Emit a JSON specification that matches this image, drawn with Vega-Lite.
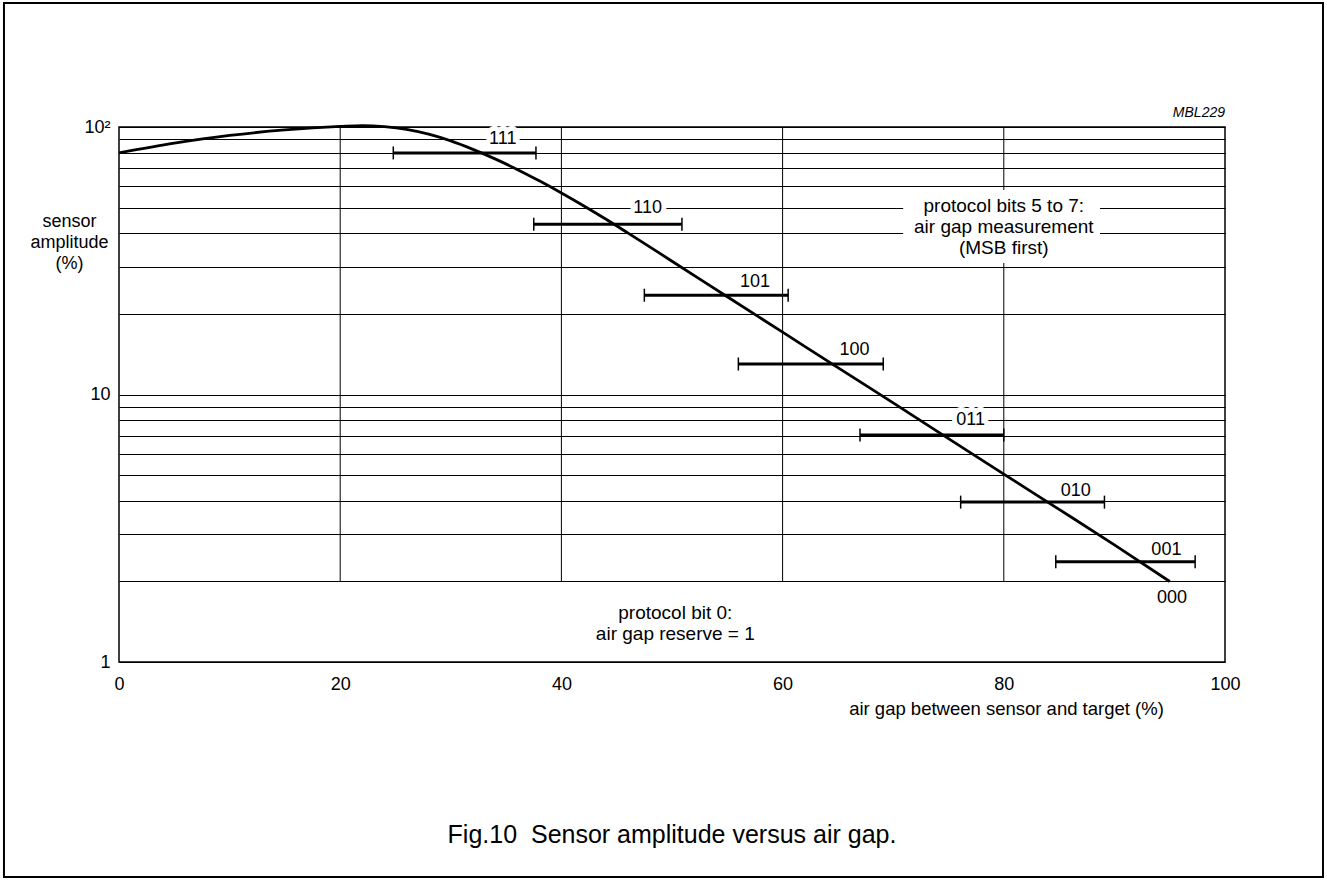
{
  "$schema": "https://vega.github.io/schema/vega-lite/v6.json",
  "width": 1106,
  "height": 535,
  "autosize": {"type": "none"},
  "padding": {"left": 119, "top": 127, "right": 102, "bottom": 218},
  "background": "white",
  "config": {
    "view": {"stroke": "#000", "strokeWidth": 1.5},
    "font": "Liberation Sans"
  },
  "title": {
    "text": "Fig.10\u00a0 Sensor amplitude versus air gap.",
    "orient": "bottom",
    "anchor": "middle",
    "frame": "group",
    "offset": -55,
    "fontSize": 25,
    "font": "Liberation Sans",
    "fontWeight": "normal",
    "color": "#000"
  },
  "datasets": {
    "curve": [
      {"x": 0, "y": 80}, {"x": 5, "y": 87}, {"x": 10, "y": 93}, {"x": 15, "y": 97.5},
      {"x": 20, "y": 100.5}, {"x": 22, "y": 101.2}, {"x": 24, "y": 100.3}, {"x": 26, "y": 98},
      {"x": 28, "y": 94}, {"x": 30, "y": 88.7}, {"x": 32, "y": 82.5}, {"x": 34, "y": 76},
      {"x": 36, "y": 69.4}, {"x": 38, "y": 62.9}, {"x": 40, "y": 56.7}, {"x": 42, "y": 50.8},
      {"x": 44, "y": 45.3}, {"x": 46, "y": 40.2}, {"x": 50, "y": 31.5}, {"x": 55, "y": 23.2},
      {"x": 60, "y": 17.1}, {"x": 65, "y": 12.6}, {"x": 70, "y": 9.3}, {"x": 75, "y": 6.84},
      {"x": 80, "y": 5.04}, {"x": 85, "y": 3.72}, {"x": 90, "y": 2.74}, {"x": 95, "y": 2}
    ],
    "bars": [
      {"lo": 24.8, "hi": 37.7, "y": 80},
      {"lo": 37.5, "hi": 50.9, "y": 43.3},
      {"lo": 47.5, "hi": 60.5, "y": 23.5},
      {"lo": 56.0, "hi": 69.1, "y": 13},
      {"lo": 67.0, "hi": 80.0, "y": 7.06},
      {"lo": 76.1, "hi": 89.1, "y": 3.96},
      {"lo": 84.7, "hi": 97.3, "y": 2.37}
    ],
    "labels": [
      {"code": "111", "lx": 34.7, "ly": 90},
      {"code": "110", "lx": 47.8, "ly": 50},
      {"code": "101", "lx": 57.5, "ly": 26.4},
      {"code": "100", "lx": 66.5, "ly": 14.7},
      {"code": "011", "lx": 77.0, "ly": 8},
      {"code": "010", "lx": 86.5, "ly": 4.35},
      {"code": "001", "lx": 94.7, "ly": 2.62},
      {"code": "000", "lx": 95.2, "ly": 1.74}
    ],
    "gridx": [{"g": 20}, {"g": 40}, {"g": 60}, {"g": 80}],
    "notes": [
      {"note": "protocol bits 5 to 7:\nair gap measurement\n(MSB first)", "nx": 80, "ny": 50.7},
      {"note": "protocol bit 0:\nair gap reserve = 1", "nx": 50.3, "ny": 1.525}
    ]
  },
  "layer": [
    {
      "data": {"values": [{"k": 1}]},
      "mark": {"type": "rect", "filled": false, "stroke": "#000", "strokeWidth": 2},
      "encoding": {
        "x": {"datum": -10.4, "type": "quantitative"},
        "x2": {"datum": 108.86},
        "y": {"datum": 290.8, "type": "quantitative"},
        "y2": {"datum": 0.1571}
      }
    },
    {
      "data": {"name": "gridx"},
      "mark": {"type": "rule", "color": "#000", "strokeWidth": 1},
      "encoding": {
        "x": {"field": "g", "type": "quantitative"},
        "y": {"datum": 2, "type": "quantitative"},
        "y2": {"datum": 100}
      }
    },
    {
      "data": {"values": [{"k": 1}]},
      "mark": {"type": "rect", "color": "white", "strokeWidth": 0},
      "encoding": {
        "x": {"datum": 70.9, "type": "quantitative"},
        "x2": {"datum": 88.7},
        "y": {"datum": 58.2, "type": "quantitative"},
        "y2": {"datum": 31.0}
      }
    },
    {
      "data": {"name": "labels"},
      "mark": {"type": "text", "fontSize": 18, "font": "Liberation Sans", "baseline": "middle", "align": "center", "color": "white", "stroke": "white", "strokeWidth": 10, "strokeJoin": "round"},
      "encoding": {
        "x": {"field": "lx", "type": "quantitative"},
        "y": {"field": "ly", "type": "quantitative"},
        "text": {"field": "code", "type": "nominal"}
      }
    },
    {
      "data": {"name": "curve"},
      "mark": {"type": "line", "color": "#000", "strokeWidth": 2.8, "interpolate": "monotone"},
      "encoding": {
        "x": {
          "field": "x", "type": "quantitative",
          "scale": {"domain": [0, 100], "nice": false, "zero": false},
          "axis": {
            "values": [0, 20, 40, 60, 80, 100],
            "grid": false, "domain": false, "ticks": false,
            "labelFlush": false, "labelOverlap": false,
            "labelPadding": 13, "labelFontSize": 18, "labelFont": "Liberation Sans", "labelColor": "#000",
            "title": "air gap between sensor and target (%)",
            "titleFont": "Liberation Sans", "titleFontSize": 18.5, "titleFontWeight": "normal", "titleColor": "#000",
            "titleAlign": "center", "titleBaseline": "alphabetic", "titleX": 887, "titleY": 52
          }
        },
        "y": {
          "field": "y", "type": "quantitative",
          "scale": {"type": "log", "domain": [1, 100], "nice": false},
          "axis": {
            "values": [1, 2, 3, 4, 5, 6, 7, 8, 9, 10, 20, 30, 40, 50, 60, 70, 80, 90, 100],
            "labelExpr": "datum.value == 100 ? '10²' : (datum.value == 10 || datum.value == 1) ? datum.label : ''",
            "grid": true, "gridColor": "#000", "gridWidth": 1, "gridOpacity": 1,
            "domain": false, "ticks": false,
            "labelOverlap": false, "labelBound": false, "labelFlush": false,
            "labelPadding": 9, "labelFontSize": 18, "labelFont": "Liberation Sans", "labelColor": "#000",
            "title": ["sensor", "amplitude", "(%)"],
            "titleAngle": 0, "titleFont": "Liberation Sans", "titleFontSize": 18, "titleFontWeight": "normal", "titleColor": "#000",
            "titleAlign": "center", "titleBaseline": "middle", "titleX": -50, "titleY": 94, "titleLineHeight": 21
          }
        }
      }
    },
    {
      "data": {"name": "bars"},
      "mark": {"type": "rule", "color": "#000", "strokeWidth": 3},
      "encoding": {
        "x": {"field": "lo", "type": "quantitative"},
        "x2": {"field": "hi"},
        "y": {"field": "y", "type": "quantitative"}
      }
    },
    {
      "data": {"name": "bars"},
      "mark": {"type": "tick", "orient": "vertical", "size": 13, "thickness": 1.5, "color": "#000", "opacity": 1},
      "encoding": {
        "x": {"field": "lo", "type": "quantitative"},
        "y": {"field": "y", "type": "quantitative"}
      }
    },
    {
      "data": {"name": "bars"},
      "mark": {"type": "tick", "orient": "vertical", "size": 13, "thickness": 1.5, "color": "#000", "opacity": 1},
      "encoding": {
        "x": {"field": "hi", "type": "quantitative"},
        "y": {"field": "y", "type": "quantitative"}
      }
    },
    {
      "data": {"name": "labels"},
      "mark": {"type": "text", "fontSize": 18, "font": "Liberation Sans", "baseline": "middle", "align": "center", "color": "#000"},
      "encoding": {
        "x": {"field": "lx", "type": "quantitative"},
        "y": {"field": "ly", "type": "quantitative"},
        "text": {"field": "code", "type": "nominal"}
      }
    },
    {
      "data": {"name": "notes"},
      "mark": {"type": "text", "fontSize": 19, "font": "Liberation Sans", "baseline": "middle", "align": "center", "color": "#000", "lineBreak": "\n", "lineHeight": 21},
      "encoding": {
        "x": {"field": "nx", "type": "quantitative"},
        "y": {"field": "ny", "type": "quantitative"},
        "text": {"field": "note", "type": "nominal"}
      }
    },
    {
      "data": {"values": [{"id": "MBL229"}]},
      "mark": {"type": "text", "fontSize": 14, "font": "Liberation Sans", "fontStyle": "italic", "baseline": "alphabetic", "align": "right", "dy": -10, "color": "#000"},
      "encoding": {
        "x": {"datum": 100, "type": "quantitative"},
        "y": {"datum": 100, "type": "quantitative"},
        "text": {"field": "id", "type": "nominal"}
      }
    }
  ]
}
